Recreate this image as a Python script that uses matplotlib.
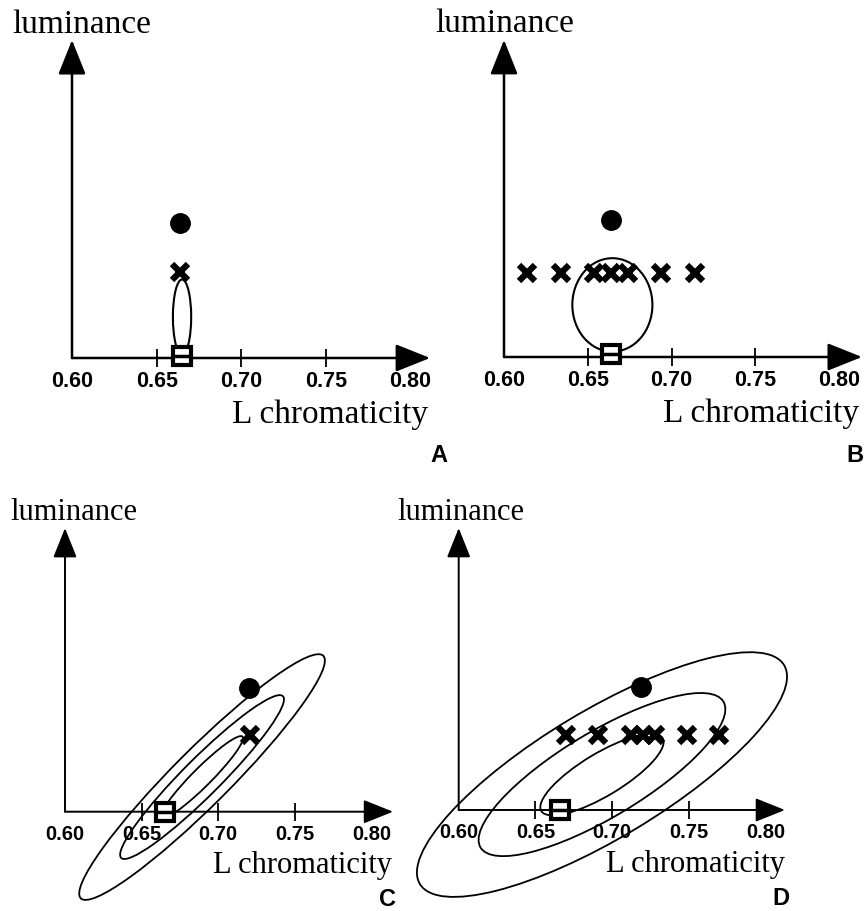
import matplotlib
matplotlib.use("Agg")
import matplotlib.pyplot as plt
from matplotlib.patches import Ellipse

W, H = 864, 911

# ---------------- data ----------------
panel_letters = ["A", "B", "C", "D"]
x_label = "L chromaticity"
y_label = "luminance"
tick_values = [0.60, 0.65, 0.70, 0.75, 0.80]
tick_labels = ["0.60", "0.65", "0.70", "0.75", "0.80"]

# square marker (background)
square_chroma = [0.665, 0.664, 0.665, 0.666]
square_lum = [0.001, 0.002, 0.0, 0.0]

# filled dot
dot_chroma = [0.664, 0.664, 0.720, 0.719]
dot_lum = [0.080, 0.082, 0.081, 0.080]

# crosses
cross_A_chroma = [0.664]
cross_A_lum = [0.051]
cross_B_chroma = [0.614, 0.634, 0.654, 0.664, 0.674, 0.694, 0.714]
cross_B_lum = [0.050] * 7
cross_C_chroma = [0.721]
cross_C_lum = [0.050]
cross_D_chroma = [0.670, 0.691, 0.712, 0.720, 0.728, 0.749, 0.770]
cross_D_lum = [0.049] * 7

# ellipses: centre, full widths, full heights, angle
ell_A_center = (0.665, 0.0242)
ell_A_widths = [0.0108]
ell_A_heights = [0.0444]
ell_A_angle = 0

ell_B_center = (0.6647, 0.0311)
ell_B_widths = [0.0478]
ell_B_heights = [0.0558]
ell_B_angle = 0

ell_C_center = (0.6894, 0.0226)
ell_C_widths = [0.0746, 0.1492, 0.2237]
ell_C_heights = [0.0122, 0.0244, 0.0366]
ell_C_angle = 45

ell_D_center = (0.6934, 0.0231)
ell_D_widths = [0.0923, 0.1847, 0.2770]
ell_D_heights = [0.0278, 0.0555, 0.0833]
ell_D_angle = 31

# ---------------- layout ----------------
layout = {
    "A": dict(o=(72, 358), s=1693, xlim=(0.56, 0.82), ylim=(-0.04, 0.205),
              tip=(0.8115, 0.1878), lw=1.8, hs=21.5, tfs=24, lfs=15.5),
    "B": dict(o=(504, 357), s=1675, xlim=(0.565, 0.815), ylim=(-0.04, 0.205),
              tip=(0.8137, 0.1893), lw=1.8, hs=21.5, tfs=24, lfs=15.5),
    "C": dict(o=(65, 811.7), s=1533, xlim=(0.56, 0.83), ylim=(-0.065, 0.2),
              tip=(0.814, 0.185), lw=1.4, hs=18.5, tfs=22, lfs=14.5),
    "D": dict(o=(458.7, 810), s=1534, xlim=(0.555, 0.82), ylim=(-0.065, 0.2),
              tip=(0.8127, 0.1838), lw=1.4, hs=18.5, tfs=22, lfs=14.5),
}
text_pos = {
    "A": dict(ylab=(12, 33), xlab=(428, 423), let=(439, 462)),
    "B": dict(ylab=(435, 32), xlab=(859, 422), let=(855, 462)),
    "C": dict(ylab=(10, 520), xlab=(392, 873), let=(387, 906)),
    "D": dict(ylab=(397, 520), xlab=(785, 872), let=(781, 905)),
}

crosses = {"A": (cross_A_chroma, cross_A_lum), "B": (cross_B_chroma, cross_B_lum),
           "C": (cross_C_chroma, cross_C_lum), "D": (cross_D_chroma, cross_D_lum)}
ellipses = {"A": (ell_A_center, ell_A_widths, ell_A_heights, ell_A_angle),
            "B": (ell_B_center, ell_B_widths, ell_B_heights, ell_B_angle),
            "C": (ell_C_center, ell_C_widths, ell_C_heights, ell_C_angle),
            "D": (ell_D_center, ell_D_widths, ell_D_heights, ell_D_angle)}

fig = plt.figure(figsize=(W / 100, H / 100), dpi=100)
serif = ["Liberation Serif", "DejaVu Serif"]
sans = ["Liberation Sans", "DejaVu Sans"]


def fx(px):
    return px / W


def fy(py):
    return 1 - py / H


for i, p in enumerate(panel_letters):
    L = layout[p]
    ox, oy = L["o"]
    s = L["s"]
    x0, x1 = L["xlim"]
    y0, y1 = L["ylim"]
    left = (ox + (x0 - 0.6) * s) / W
    width = (x1 - x0) * s / W
    bottom = 1 - (oy - y0 * s) / H
    height = (y1 - y0) * s / H
    ax = fig.add_axes([left, bottom, width, height])
    ax.set_xlim(x0, x1)
    ax.set_ylim(y0, y1)
    ax.patch.set_visible(False)
    for sp in ax.spines.values():
        sp.set_visible(False)
    ax.spines["bottom"].set_position(("data", 0))
    ax.set_yticks([])
    ax.set_xticks(tick_values, tick_labels)
    ax.tick_params(axis="x", direction="inout", length=13, width=1.3,
                   pad=3, labelsize=L["lfs"])
    majors = ax.xaxis.get_major_ticks()
    majors[0].tick1line.set_visible(False)
    majors[-1].tick1line.set_visible(False)
    for lbl in ax.get_xticklabels():
        lbl.set_fontfamily(sans)
        lbl.set_fontweight("bold")

    tx, ty = L["tip"]
    style = "-|>,head_length=1.0,head_width=0.4"
    for xy in [(tx, 0), (0.6, ty)]:
        ax.annotate("", xy=xy, xytext=(0.6, 0),
                    arrowprops=dict(arrowstyle=style, color="black", lw=L["lw"],
                                    shrinkA=0, shrinkB=0, mutation_scale=L["hs"]),
                    annotation_clip=False)

    c, ws, hs_, ang = ellipses[p]
    for w_, h_ in zip(ws, hs_):
        ax.add_patch(Ellipse(c, w_, h_, angle=ang, fill=False, ec="black",
                             lw=1.5 if p in "AB" else 1.3, clip_on=False))

    cx, cy = crosses[p]
    ax.plot(cx, cy, ls="none", marker="x", ms=12, mew=4.5, color="black",
            clip_on=False, zorder=5)
    ax.plot([dot_chroma[i]], [dot_lum[i]], ls="none", marker="o", ms=14,
            color="black", clip_on=False, zorder=5)
    ax.plot([square_chroma[i]], [square_lum[i]], ls="none", marker="s", ms=13,
            mfc="white", mec="black", mew=3, clip_on=False, zorder=6)
    ax.plot([square_chroma[i]], [square_lum[i]], ls="none", marker="_", ms=11,
            mec="black", mew=2.5, clip_on=False, zorder=7)

    T = text_pos[p]
    fig.text(fx(T["ylab"][0]), fy(T["ylab"][1]), y_label, ha="left",
             va="baseline", fontsize=L["tfs"], family=serif)
    fig.text(fx(T["xlab"][0]), fy(T["xlab"][1]), x_label, ha="right",
             va="baseline", fontsize=L["tfs"], family=serif)
    fig.text(fx(T["let"][0]), fy(T["let"][1]), p, ha="center",
             va="baseline", fontsize=17, family=sans, fontweight="bold")

fig.savefig("out.png", dpi=100)
